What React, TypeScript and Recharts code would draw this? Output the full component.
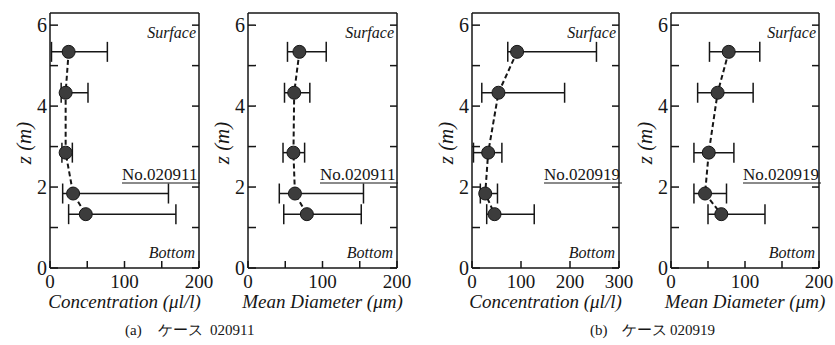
import React from 'react';
import { ScatterChart, Scatter, XAxis, YAxis, ErrorBar } from 'recharts';

// depth of the five sampling points (m)
const depths = [5.34, 4.33, 2.85, 1.84, 1.33];

// case 020911
const concA = [25, 21, 21, 31, 48];
const concALow = [2, 15, 16, 17, 25];
const concAHigh = [77, 51, 30, 159, 169];

const diamA = [69, 62, 61, 63, 79];
const diamALow = [53, 49, 47, 42, 48];
const diamAHigh = [105, 83, 76, 155, 152];

// case 020919
const concB = [92, 54, 33, 27, 46];
const concBLow = [73, 20, 3, 17, 30];
const concBHigh = [254, 189, 61, 52, 127];

const diamB = [78, 63, 51, 46, 68];
const diamBLow = [52, 36, 31, 31, 50];
const diamBHigh = [120, 111, 85, 75, 127];

const zTicks = [0, 1, 2, 3, 4, 5, 6];
const xTicks200 = [0, 50, 100, 150, 200];
const xTicks300 = [0, 50, 100, 150, 200, 250, 300];

const SERIF = 'Liberation Serif';
const INK = '#161616';
const TOP = 13;
const BOTTOM = 268;
const YAXIS_W = 40;
const PAD_R = 22;

const axisStyle = { stroke: INK, strokeWidth: 1.5 };
const serif = (size: number, italic = false) => ({
  fontFamily: SERIF,
  fontSize: size,
  fontStyle: italic ? 'italic' : 'normal',
});

function BottomTick(props: any) {
  const { x, y, payload } = props;
  if (payload.value % 100 !== 0) return <g />;
  return (
    <text x={x} y={y + 20} textAnchor="middle" fill={INK} style={serif(19)}>
      {payload.value}
    </text>
  );
}

function LeftTick(props: any) {
  const { x, y, payload } = props;
  if (payload.value % 2 !== 0) return <g />;
  return (
    <text x={x - 3} y={y + 7} textAnchor="end" fill={INK} style={serif(20)}>
      {payload.value}
    </text>
  );
}

const noTick = () => <g />;

type PanelProps = {
  left: number;
  boxW: number;
  xMax: number;
  xTicks: number[];
  values: number[];
  low: number[];
  high: number[];
};

function Panel({ left, boxW, xMax, xTicks, values, low, high }: PanelProps) {
  const data = depths.map((z, i) => ({
    x: values[i],
    z,
    err: [values[i] - low[i], high[i] - values[i]],
  }));
  const w = YAXIS_W + boxW + 1 + PAD_R;
  return (
    <div style={{ position: 'absolute', left: left - YAXIS_W, top: 0 }}>
      <ScatterChart width={w} height={300} margin={{ top: TOP - 1, right: PAD_R, bottom: 0, left: 0 }}>
        <XAxis
          xAxisId="b"
          type="number"
          dataKey="x"
          orientation="bottom"
          domain={[0, xMax]}
          ticks={xTicks}
          allowDataOverflow
          height={300 - BOTTOM}
          tickSize={-7}
          tickMargin={7}
          tick={(p: any) => <BottomTick {...p} />}
          axisLine={axisStyle}
          tickLine={axisStyle}
        />
        <XAxis
          xAxisId="t"
          type="number"
          orientation="top"
          domain={[0, xMax]}
          ticks={xTicks}
          allowDataOverflow
          height={1}
          tickSize={-7}
          tick={noTick}
          axisLine={axisStyle}
          tickLine={axisStyle}
        />
        <YAxis
          yAxisId="l"
          type="number"
          dataKey="z"
          orientation="left"
          domain={[0, 6.3]}
          ticks={zTicks}
          allowDataOverflow
          width={YAXIS_W}
          tickSize={-8}
          tickMargin={8}
          tick={(p: any) => <LeftTick {...p} />}
          axisLine={axisStyle}
          tickLine={axisStyle}
        />
        <YAxis
          yAxisId="r"
          type="number"
          orientation="right"
          domain={[0, 6.3]}
          ticks={zTicks}
          allowDataOverflow
          width={1}
          tickSize={-7}
          tick={noTick}
          axisLine={axisStyle}
          tickLine={axisStyle}
        />
        <Scatter
          xAxisId="b"
          yAxisId="l"
          data={data}
          isAnimationActive={false}
          line={{ stroke: INK, strokeWidth: 2, strokeDasharray: '5 3' }}
          lineType="joint"
          shape={(p: any) => (
            <circle cx={p.cx} cy={p.cy} r={6.5} fill="#3c3c3c" stroke={INK} strokeWidth={1} />
          )}
        >
          <ErrorBar
            dataKey="err"
            direction="x"
            width={10}
            stroke={INK}
            strokeWidth={1.5}
            isAnimationActive={false}
          />
        </Scatter>
      </ScatterChart>
    </div>
  );
}

const panels = [
  { left: 50, boxW: 149, xMax: 200, xTicks: xTicks200, values: concA, low: concALow, high: concAHigh, title: 'Concentration (\u03bcl/l)', run: 'No.020911' },
  { left: 248, boxW: 149, xMax: 200, xTicks: xTicks200, values: diamA, low: diamALow, high: diamAHigh, title: 'Mean Diameter (\u03bcm)', run: 'No.020911' },
  { left: 472, boxW: 147, xMax: 300, xTicks: xTicks300, values: concB, low: concBLow, high: concBHigh, title: 'Concentration (\u03bcl/l)', run: 'No.020919' },
  { left: 671, boxW: 148, xMax: 200, xTicks: xTicks200, values: diamB, low: diamBLow, high: diamBHigh, title: 'Mean Diameter (\u03bcm)', run: 'No.020919' },
];

export default function App() {
  return (
    <div style={{ position: 'absolute', left: 0, top: 0, width: 835, height: 345, fontFamily: SERIF }}>
      {panels.map((p, i) => (
        <Panel key={i} {...p} />
      ))}
      <svg width={835} height={345} style={{ position: 'absolute', left: 0, top: 0 }}>
        {panels.map((p, i) => {
          const right = p.left + p.boxW;
          const zx = p.left - 19;
          return (
            <g key={i} fill={INK}>
              <text x={right - 3} y={38} textAnchor="end" style={serif(16, true)}>Surface</text>
              <text x={right - 4} y={258} textAnchor="end" style={serif(16, true)}>Bottom</text>
              <text x={p.left + 72} y={180} style={serif(17)}>{p.run}</text>
              <line x1={p.left + 72} x2={p.left + 150} y1={183} y2={183} stroke={INK} strokeWidth={1} />
              <text
                x={zx}
                y={143}
                textAnchor="middle"
                transform={`rotate(-90 ${zx} 143)`}
                style={serif(21, true)}
              >
                z (m)
              </text>
              <text x={p.left + p.boxW / 2} y={308} textAnchor="middle" style={serif(19, true)}>
                {p.title}
              </text>
            </g>
          );
        })}
        <text fill={INK} y={335} style={serif(15)}>
          <tspan x={125}>(a)</tspan>
          <tspan x={158}>ケース</tspan>
          <tspan x={210}>020911</tspan>
        </text>
        <text fill={INK} y={335} style={serif(15)}>
          <tspan x={590}>(b)</tspan>
          <tspan x={622}>ケース</tspan>
          <tspan x={670}>020919</tspan>
        </text>
      </svg>
    </div>
  );
}
